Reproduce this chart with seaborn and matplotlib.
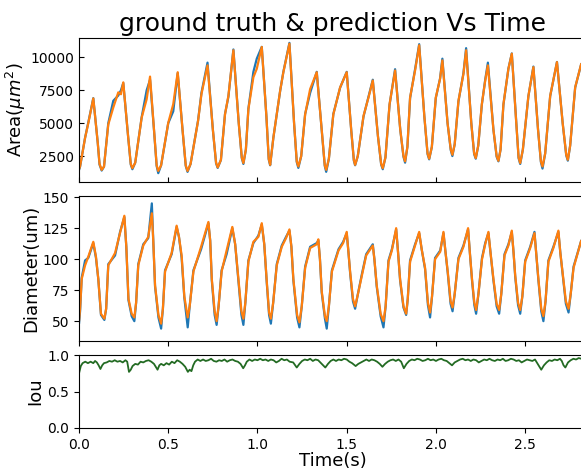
import matplotlib
matplotlib.use("Agg")
import matplotlib.pyplot as plt
import seaborn as sns

# ---- data ----
t_area = [0.000, 0.006, 0.034, 0.052, 0.080, 0.105, 0.115, 0.127, 0.140, 0.164,
          0.192, 0.220, 0.235, 0.248, 0.275, 0.290, 0.299, 0.315, 0.351, 0.379,
          0.398, 0.420, 0.435, 0.444, 0.460, 0.500, 0.528, 0.553, 0.580, 0.598,
          0.608, 0.625, 0.667, 0.686, 0.720, 0.750, 0.768, 0.777, 0.795, 0.818,
          0.837, 0.865, 0.895, 0.912, 0.921, 0.935, 0.949, 0.977, 0.996, 1.024,
          1.050, 1.063, 1.071, 1.089, 1.127, 1.145, 1.179, 1.205, 1.220, 1.229,
          1.245, 1.267, 1.295, 1.332, 1.360, 1.377, 1.385, 1.400, 1.425, 1.463,
          1.500, 1.525, 1.540, 1.547, 1.562, 1.594, 1.622, 1.646, 1.675, 1.693,
          1.702, 1.717, 1.740, 1.771, 1.800, 1.818, 1.827, 1.840, 1.855, 1.883,
          1.906, 1.935, 1.953, 1.962, 1.977, 1.999, 2.023, 2.036, 2.065, 2.083,
          2.092, 2.105, 2.126, 2.154, 2.169, 2.198, 2.214, 2.223, 2.237, 2.257,
          2.276, 2.291, 2.322, 2.340, 2.350, 2.362, 2.378, 2.406, 2.425, 2.450,
          2.463, 2.472, 2.487, 2.518, 2.546, 2.572, 2.588, 2.597, 2.612, 2.640,
          2.678, 2.710, 2.730, 2.739, 2.752, 2.780, 2.814]
area_pred = [1500, 1730, 3880, 5000, 6880, 3500, 1900, 1450, 1700, 4900,
             6190, 7340, 7200, 8100, 4000, 1900, 1580, 2000, 5420, 6820,
             8540, 4500, 1800, 1370, 1800, 5030, 6440, 8870, 4500, 1800,
             1370, 1900, 5170, 7210, 9390, 4500, 2000, 1640, 2200, 5670,
             7080, 10540, 5000, 2400, 1970, 3000, 6060, 8490, 9130, 10790,
             5500, 2300, 1830, 3900, 7470, 8870, 11040, 5000, 2100, 1710,
             2500, 5670, 7590, 8870, 4500, 1800, 1450, 2300, 5670, 7720,
             8870, 4500, 2200, 1830, 2500, 5550, 6950, 8240, 4000, 1900,
             1580, 2400, 6440, 9000, 4500, 2500, 2100, 3200, 6950, 9000,
             10920, 5500, 2700, 2300, 3200, 6950, 8360, 9770, 5000, 3000,
             2600, 3400, 6700, 8740, 10540, 5000, 2700, 2350, 3300, 6440,
             8240, 9390, 4500, 2500, 2140, 3000, 6440, 9130, 10280, 5000,
             2400, 1970, 3000, 7080, 9260, 4500, 2100, 1710, 2700, 7080,
             9640, 5000, 2600, 2220, 3300, 7720, 9510]
area_gt = [1450, 1700, 3900, 5050, 6900, 3500, 1850, 1400, 1700, 5000,
           6700, 7100, 7500, 8050, 4000, 1850, 1500, 2000, 5450, 7500,
           8300, 4500, 1750, 1200, 1800, 5000, 5900, 8800, 4500, 1750,
           1300, 1900, 5200, 7300, 9600, 4500, 1950, 1600, 2200, 5700,
           7000, 10600, 5000, 2350, 1900, 3000, 6100, 8900, 9900, 10800,
           5500, 2250, 1800, 3900, 7450, 8900, 11100, 5000, 2050, 1600,
           2500, 5700, 7300, 8900, 4500, 1750, 1300, 2300, 5700, 7700,
           8900, 4500, 2150, 1800, 2500, 5500, 7000, 8300, 4000, 1850,
           1500, 2400, 6400, 9100, 4500, 2450, 2000, 3200, 6900, 9100,
           11000, 5500, 2650, 2250, 3200, 6900, 8400, 9900, 5000, 2950,
           2500, 3400, 6650, 8800, 10700, 5000, 2650, 2300, 3300, 6400,
           8300, 9600, 4500, 2450, 2100, 3000, 6400, 9150, 10300, 5000,
           2350, 1900, 3000, 7050, 9300, 4500, 2050, 1550, 2700, 7050,
           9650, 5000, 2550, 2150, 3300, 7700, 9500]

t_diam = [0.000, 0.006, 0.015, 0.034, 0.052, 0.080, 0.095, 0.108, 0.123, 0.142,
          0.152, 0.164, 0.202, 0.230, 0.254, 0.265, 0.277, 0.295, 0.310, 0.320,
          0.332, 0.360, 0.388, 0.408, 0.416, 0.426, 0.445, 0.460, 0.470, 0.482,
          0.519, 0.547, 0.560, 0.575, 0.590, 0.609, 0.620, 0.641, 0.684, 0.725,
          0.735, 0.744, 0.760, 0.771, 0.782, 0.799, 0.827, 0.859, 0.875, 0.893,
          0.910, 0.921, 0.932, 0.949, 0.977, 1.005, 1.024, 1.038, 1.052, 1.065,
          1.075, 1.088, 1.108, 1.136, 1.160, 1.179, 1.190, 1.201, 1.222, 1.235,
          1.248, 1.267, 1.295, 1.332, 1.341, 1.350, 1.360, 1.378, 1.388, 1.400,
          1.417, 1.454, 1.480, 1.500, 1.510, 1.519, 1.535, 1.547, 1.560, 1.585,
          1.609, 1.646, 1.655, 1.668, 1.690, 1.706, 1.718, 1.734, 1.753, 1.777,
          1.788, 1.799, 1.818, 1.833, 1.842, 1.855, 1.883, 1.906, 1.920, 1.939,
          1.955, 1.967, 1.978, 1.995, 2.024, 2.042, 2.054, 2.066, 2.082, 2.093,
          2.105, 2.126, 2.154, 2.180, 2.190, 2.202, 2.215, 2.225, 2.238, 2.258,
          2.276, 2.294, 2.306, 2.322, 2.340, 2.354, 2.366, 2.384, 2.406, 2.425,
          2.435, 2.444, 2.460, 2.472, 2.484, 2.500, 2.528, 2.552, 2.563, 2.574,
          2.590, 2.602, 2.614, 2.630, 2.658, 2.686, 2.697, 2.709, 2.728, 2.743,
          2.755, 2.771, 2.814]
diam_pred = [50, 60, 84, 95, 102, 114, 102, 84, 56, 52,
             60, 95, 105, 121, 135, 110, 68, 56, 53, 65,
             95, 111, 118, 137, 115, 79, 55, 48, 60, 90,
             105, 127, 118, 103, 70, 53, 62, 90, 110, 130,
             115, 84, 58, 50, 62, 90, 107, 126, 112, 84,
             58, 52, 65, 98, 114, 118, 129, 112, 82, 57,
             52, 65, 95, 110, 117, 124, 110, 84, 55, 49,
             62, 93, 109, 112, 116, 100, 74, 54, 50, 62,
             90, 107, 113, 122, 105, 90, 68, 62, 70, 87,
             103, 111, 100, 79, 56, 50, 62, 98, 107, 125,
             105, 84, 62, 56, 68, 98, 111, 122, 108, 93,
             65, 57, 70, 100, 106, 122, 105, 90, 66, 61,
             72, 100, 110, 125, 105, 84, 65, 59, 72, 100,
             112, 122, 105, 84, 64, 59, 72, 103, 111, 123,
             105, 87, 65, 59, 70, 98, 109, 121, 102, 84,
             60, 54, 66, 98, 109, 123, 105, 90, 66, 60,
             72, 93, 115]
diam_gt = [48, 58, 85, 99, 101, 113, 101, 84, 55, 51,
           60, 96, 103, 122, 134, 110, 67, 54, 50, 65,
           96, 112, 117, 145, 115, 78, 53, 44, 60, 91,
           104, 126, 118, 101, 69, 45, 62, 91, 108, 129,
           115, 83, 55, 47, 62, 91, 104, 125, 112, 83,
           55, 47, 65, 99, 113, 119, 128, 112, 81, 55,
           48, 65, 96, 111, 118, 123, 110, 83, 53, 45,
           62, 94, 110, 113, 115, 100, 73, 52, 44, 62,
           91, 108, 114, 121, 105, 89, 66, 60, 70, 88,
           104, 112, 100, 78, 54, 45, 62, 99, 108, 124,
           105, 83, 61, 55, 68, 99, 112, 121, 108, 92,
           63, 53, 70, 101, 107, 121, 105, 89, 64, 58,
           72, 101, 111, 124, 105, 83, 63, 56, 72, 101,
           113, 121, 105, 83, 62, 56, 72, 104, 112, 122,
           105, 86, 63, 56, 70, 99, 110, 122, 102, 83,
           58, 50, 66, 99, 110, 122, 105, 89, 64, 57,
           72, 94, 115]

t_iou = [0.000, 0.010, 0.020, 0.035, 0.050, 0.065, 0.080, 0.090, 0.100, 0.110,
         0.120, 0.130, 0.140, 0.155, 0.170, 0.185, 0.200, 0.215, 0.230, 0.245,
         0.260, 0.270, 0.280, 0.290, 0.300, 0.315, 0.330, 0.345, 0.360, 0.375,
         0.390, 0.405, 0.420, 0.430, 0.440, 0.450, 0.460, 0.475, 0.490, 0.505,
         0.520, 0.535, 0.550, 0.565, 0.580, 0.595, 0.610, 0.620, 0.630, 0.640,
         0.650, 0.665, 0.680, 0.695, 0.710, 0.725, 0.740, 0.755, 0.770, 0.785,
         0.800, 0.815, 0.830, 0.845, 0.860, 0.875, 0.890, 0.905, 0.920, 0.930,
         0.940, 0.955, 0.970, 0.985, 1.000, 1.015, 1.030, 1.045, 1.060, 1.075,
         1.090, 1.105, 1.120, 1.135, 1.150, 1.165, 1.180, 1.200, 1.220, 1.235,
         1.250, 1.265, 1.280, 1.295, 1.310, 1.325, 1.340, 1.360, 1.380, 1.395,
         1.410, 1.425, 1.440, 1.455, 1.470, 1.485, 1.500, 1.515, 1.530, 1.540,
         1.550, 1.565, 1.580, 1.595, 1.610, 1.625, 1.640, 1.655, 1.670, 1.685,
         1.700, 1.715, 1.730, 1.745, 1.760, 1.775, 1.790, 1.805, 1.820, 1.835,
         1.850, 1.865, 1.880, 1.895, 1.910, 1.925, 1.940, 1.955, 1.970, 1.985,
         2.000, 2.015, 2.030, 2.045, 2.060, 2.075, 2.090, 2.105, 2.120, 2.135,
         2.150, 2.165, 2.180, 2.195, 2.210, 2.225, 2.240, 2.255, 2.270, 2.285,
         2.300, 2.315, 2.330, 2.345, 2.360, 2.375, 2.390, 2.405, 2.420, 2.435,
         2.450, 2.465, 2.480, 2.495, 2.510, 2.525, 2.540, 2.555, 2.570, 2.580,
         2.590, 2.605, 2.620, 2.635, 2.650, 2.665, 2.680, 2.695, 2.705, 2.715,
         2.725, 2.740, 2.755, 2.770, 2.785, 2.800, 2.815, 2.830]
iou = [0.75, 0.85, 0.89, 0.91, 0.89, 0.91, 0.89, 0.92, 0.90, 0.86,
       0.81, 0.86, 0.89, 0.90, 0.92, 0.91, 0.93, 0.91, 0.92, 0.90,
       0.93, 0.91, 0.77, 0.80, 0.85, 0.88, 0.87, 0.91, 0.90, 0.92,
       0.93, 0.91, 0.88, 0.84, 0.80, 0.86, 0.88, 0.86, 0.89, 0.87,
       0.91, 0.89, 0.93, 0.91, 0.88, 0.84, 0.77, 0.80, 0.78, 0.86,
       0.91, 0.94, 0.92, 0.94, 0.92, 0.93, 0.95, 0.92, 0.91, 0.93,
       0.92, 0.94, 0.91, 0.93, 0.94, 0.92, 0.91, 0.88, 0.82, 0.86,
       0.91, 0.94, 0.92, 0.94, 0.93, 0.95, 0.93, 0.94, 0.92, 0.94,
       0.93, 0.90, 0.92, 0.95, 0.93, 0.94, 0.91, 0.90, 0.83, 0.88,
       0.92, 0.94, 0.93, 0.95, 0.92, 0.94, 0.93, 0.88, 0.83, 0.88,
       0.92, 0.94, 0.92, 0.94, 0.93, 0.95, 0.94, 0.91, 0.89, 0.87,
       0.85, 0.88, 0.90, 0.92, 0.94, 0.92, 0.94, 0.93, 0.91, 0.88,
       0.84, 0.88, 0.91, 0.93, 0.94, 0.92, 0.94, 0.91, 0.82, 0.88,
       0.92, 0.94, 0.93, 0.95, 0.94, 0.92, 0.93, 0.95, 0.93, 0.94,
       0.92, 0.94, 0.95, 0.93, 0.92, 0.89, 0.86, 0.90, 0.92, 0.94,
       0.95, 0.93, 0.94, 0.92, 0.94, 0.93, 0.90, 0.92, 0.94, 0.93,
       0.95, 0.93, 0.92, 0.94, 0.93, 0.95, 0.92, 0.93, 0.95, 0.94,
       0.92, 0.93, 0.90, 0.92, 0.94, 0.93, 0.92, 0.94, 0.88, 0.84,
       0.80, 0.86, 0.90, 0.93, 0.92, 0.94, 0.93, 0.95, 0.92, 0.86,
       0.83, 0.90, 0.93, 0.95, 0.94, 0.96, 0.95, 0.96]

# 기본 matplotlib 느낌: 검은 글자, 바깥쪽 눈금
sns.set_style('ticks', {'text.color': 'black', 'axes.labelcolor': 'black',
                        'xtick.color': 'black', 'ytick.color': 'black',
                        'axes.edgecolor': 'black'})

fig = plt.figure(figsize=(5.81, 4.71), dpi=100)
ax1 = fig.add_axes([0.136, 0.6136, 0.873, 0.3054])
ax2 = fig.add_axes([0.136, 0.276, 0.873, 0.308])
ax3 = fig.add_axes([0.136, 0.0913, 0.873, 0.1547])

# Area
sns.lineplot(x=t_area, y=area_gt, ax=ax1, color='#1f77b4', lw=1.6, estimator=None)
sns.lineplot(x=t_area, y=area_pred, ax=ax1, color='#ff7f0e', lw=1.6, estimator=None)
ax1.set_ylim(530, 11460)
ax1.set_yticks([2500, 5000, 7500, 10000])
ax1.set_ylabel('Area($\\mu m^2$)', fontsize=13, labelpad=2)
ax1.tick_params(direction='in', labelsize=10)
ax1.set_xticklabels([])
ax1.set_title('ground truth & prediction Vs Time', fontsize=18, pad=5)

# Diameter
sns.lineplot(x=t_diam, y=diam_gt, ax=ax2, color='#1f77b4', lw=1.6, estimator=None)
sns.lineplot(x=t_diam, y=diam_pred, ax=ax2, color='#ff7f0e', lw=1.6, estimator=None)
ax2.set_ylim(34, 151)
ax2.set_yticks([50, 75, 100, 125, 150])
ax2.set_ylabel('Diameter(um)', fontsize=13, labelpad=2)
ax2.tick_params(labelsize=10)
ax2.set_xticklabels([])

# Iou
sns.lineplot(x=t_iou, y=iou, ax=ax3, color='#236b23', lw=1.3, estimator=None)
ax3.set_ylim(0, 1)
ax3.set_yticks([0.0, 0.5, 1.0])
ax3.set_ylabel('Iou', fontsize=13, labelpad=2)
ax3.set_xlabel('Time(s)', fontsize=13, labelpad=0)
ax3.tick_params(labelsize=10)

for ax in (ax1, ax2, ax3):
    ax.set_xlim(0, 2.842)
    ax.set_xticks([0.0, 0.5, 1.0, 1.5, 2.0, 2.5])
ax3.set_xticklabels(['0.0', '0.5', '1.0', '1.5', '2.0', '2.5'])

fig.savefig('out.png', dpi=100)
